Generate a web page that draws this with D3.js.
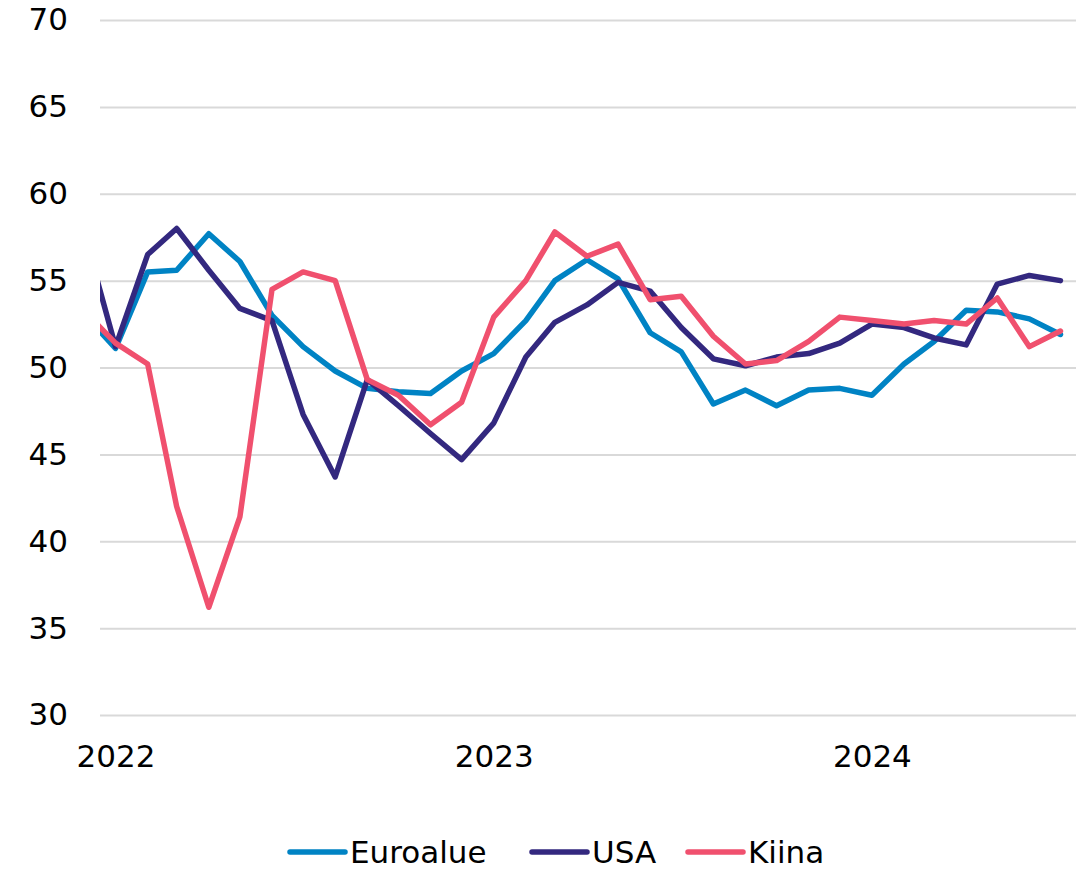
<!DOCTYPE html>
<html>
<head>
<meta charset="utf-8">
<script src="https://cdn.jsdelivr.net/npm/d3@7"></script>
<style>
    body { margin: 0; background: #fff; }
    svg { display: block; font-family: "DejaVu Sans", Verdana, sans-serif; }
</style>
</head>
<body>
<div id="chart"></div>
<script>
// months Dec 2021 .. Jul 2024
const months = d3.timeMonths(new Date(2021, 11, 1), new Date(2024, 7, 1));

const euroalue = [53.1,
    51.1, 55.5, 55.6, 57.7, 56.1, 53.0, 51.2, 49.8, 48.8, 48.6, 48.5, 49.8,
    50.8, 52.7, 55.0, 56.2, 55.1, 52.0, 50.9, 47.9, 48.7, 47.8, 48.7, 48.8,
    48.4, 50.2, 51.5, 53.3, 53.2, 52.8, 51.9];
const usa = [57.9,
    51.2, 56.5, 58.0, 55.6, 53.4, 52.7, 47.3, 43.7, 49.3, 47.8, 46.2, 44.7,
    46.8, 50.6, 52.6, 53.6, 54.9, 54.4, 52.3, 50.5, 50.1, 50.6, 50.8, 51.4,
    52.5, 52.3, 51.7, 51.3, 54.8, 55.3, 55.0];
const kiina = [53.3,
    51.4, 50.2, 42.0, 36.2, 41.4, 54.5, 55.5, 55.0, 49.3, 48.4, 46.7, 48.0,
    52.9, 55.0, 57.8, 56.4, 57.1, 53.9, 54.1, 51.8, 50.2, 50.4, 51.5, 52.9,
    52.7, 52.5, 52.7, 52.5, 54.0, 51.2, 52.1];

const seriesNames = ["Euroalue", "USA", "Kiina"];
const seriesValues = [euroalue, usa, kiina];
const colors = ["#0083c4", "#33287f", "#f0506e"];

const yTicks = [30, 35, 40, 45, 50, 55, 60, 65, 70];
const xTicks = [new Date(2022, 0, 1), new Date(2023, 0, 1), new Date(2024, 0, 1)];

const width = 1089;
const height = 869;
const plot = { left: 100, right: 1076, top: 20, bottom: 715 };

const svg = d3.select("#chart")
    .append("svg")
    .attr("width", width)
    .attr("height", height);

const x = d3.scaleTime()
    .domain([new Date(2021, 11, 17), new Date(2024, 6, 16)])
    .range([plot.left, plot.right]);

const y = d3.scaleLinear()
    .domain([30, 70])
    .range([plot.bottom, plot.top]);

svg.append("defs").append("clipPath")
    .attr("id", "plot-clip")
    .append("rect")
    .attr("x", plot.left)
    .attr("y", 0)
    .attr("width", plot.right - plot.left)
    .attr("height", height);

// gridlines + y labels
const yAxis = svg.append("g")
    .attr("transform", `translate(${plot.left},0)`)
    .call(d3.axisLeft(y)
        .tickValues(yTicks)
        .tickSize(-(plot.right - plot.left))
        .tickPadding(32));

yAxis.attr("font-family", null).attr("font-size", null);
yAxis.select(".domain").remove();
yAxis.selectAll(".tick line")
    .attr("stroke", "#d9d9d9")
    .attr("stroke-width", 2);
yAxis.selectAll(".tick text")
    .attr("fill", "#000")
    .style("font-size", "31px");

// x labels
const xAxis = svg.append("g")
    .attr("transform", `translate(0,${plot.bottom})`)
    .call(d3.axisBottom(x)
        .tickValues(xTicks)
        .tickFormat(d3.timeFormat("%Y"))
        .tickSize(0)
        .tickPadding(30));

xAxis.attr("font-family", null).attr("font-size", null);
xAxis.select(".domain").remove();
xAxis.selectAll(".tick text")
    .attr("fill", "#000")
    .style("font-size", "31px");

// lines
const line = d3.line()
    .x((d, i) => x(months[i]))
    .y(d => y(d));

svg.append("g")
    .attr("clip-path", "url(#plot-clip)")
    .selectAll("path")
    .data(seriesValues)
    .enter()
    .append("path")
    .attr("d", d => line(d))
    .attr("fill", "none")
    .attr("stroke", (d, i) => colors[i])
    .attr("stroke-width", 5.5)
    .attr("stroke-linejoin", "round")
    .attr("stroke-linecap", "round");

// legend
const legendX = [290, 532, 688];
const legend = svg.append("g")
    .attr("transform", "translate(0, 852)");

seriesNames.forEach((name, i) => {
    const row = legend.append("g")
        .attr("transform", `translate(${legendX[i]}, 0)`);

    row.append("line")
        .attr("x1", 0)
        .attr("x2", 55)
        .attr("stroke", colors[i])
        .attr("stroke-width", 5.5)
        .attr("stroke-linecap", "round");

    row.append("text")
        .attr("x", 60)
        .attr("y", 11)
        .style("font-size", "31px")
        .text(name);
});
</script>
</body>
</html>
